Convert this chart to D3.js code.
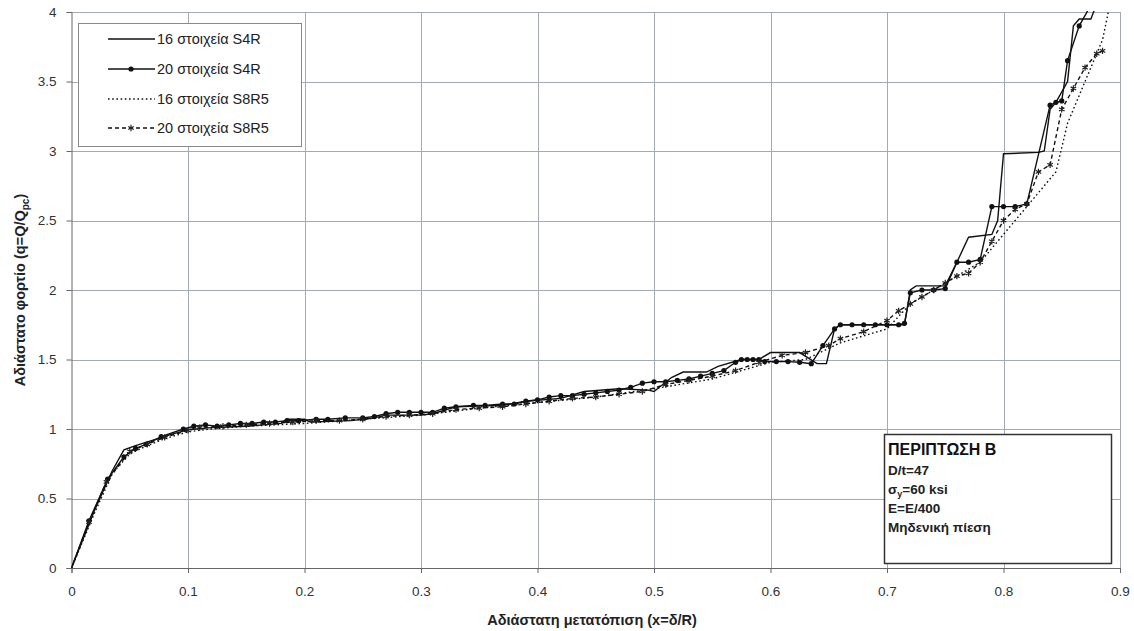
<!DOCTYPE html>
<html>
<head>
<meta charset="utf-8">
<script src="https://cdn.jsdelivr.net/npm/d3@7"></script>
<style>
  body { margin: 0; background: #fff; }
  svg { font-family: "Liberation Sans", Arial, sans-serif; }
</style>
</head>
<body>
<div id="chart"></div>
<script>
// axis ticks
const xTicks = [0, 0.1, 0.2, 0.3, 0.4, 0.5, 0.6, 0.7, 0.8, 0.9];
const yTicks = [0, 0.5, 1, 1.5, 2, 2.5, 3, 3.5, 4];

const legendLabels = ['16 στοιχεία S4R', '20 στοιχεία S4R', '16 στοιχεία S8R5', '20 στοιχεία S8R5'];
const noteTitle = 'ΠΕΡΙΠΤΩΣΗ Β';
const noteLines = ['D/t=47', 'σy=60 ksi', 'E=E/400', 'Μηδενική πίεση'];

// [x, q] pairs for each mesh
const s4r16 = [[0,0],[0.02,0.42],[0.035,0.7],[0.045,0.85],[0.055,0.88],[0.07,0.92],[0.085,0.96],[0.1,0.995],
  [0.12,1.01],[0.15,1.02],[0.18,1.04],[0.185,1.07],[0.2,1.07],[0.205,1.05],[0.24,1.06],[0.26,1.08],[0.27,1.1],
  [0.3,1.1],[0.31,1.11],[0.33,1.16],[0.37,1.17],[0.39,1.2],[0.42,1.22],[0.44,1.27],[0.47,1.29],[0.495,1.28],
  [0.5,1.27],[0.515,1.37],[0.525,1.41],[0.545,1.41],[0.555,1.45],[0.575,1.5],[0.59,1.5],[0.6,1.55],[0.625,1.55],
  [0.64,1.47],[0.648,1.47],[0.655,1.72],[0.66,1.75],[0.715,1.75],[0.72,2.0],[0.725,2.03],[0.75,2.03],[0.76,2.2],
  [0.77,2.38],[0.79,2.4],[0.795,2.5],[0.8,2.98],[0.83,2.99],[0.835,3.0],[0.84,3.3],[0.845,3.35],[0.855,3.5],
  [0.86,3.9],[0.865,3.95],[0.875,3.95],[0.882,4.1]];

const s4r20 = [[0,0],[0.015,0.34],[0.031,0.64],[0.045,0.8],[0.055,0.86],[0.064,0.89],[0.077,0.945],[0.096,1.0],
  [0.105,1.02],[0.115,1.03],[0.125,1.02],[0.135,1.03],[0.145,1.04],[0.155,1.04],[0.165,1.05],[0.175,1.05],
  [0.185,1.06],[0.195,1.06],[0.21,1.07],[0.22,1.07],[0.235,1.08],[0.25,1.08],[0.26,1.09],[0.27,1.11],[0.28,1.12],
  [0.29,1.12],[0.3,1.12],[0.31,1.12],[0.32,1.15],[0.33,1.16],[0.345,1.17],[0.355,1.17],[0.37,1.18],[0.38,1.18],
  [0.39,1.2],[0.4,1.21],[0.41,1.23],[0.42,1.24],[0.43,1.24],[0.44,1.25],[0.45,1.26],[0.46,1.27],[0.47,1.28],
  [0.48,1.3],[0.49,1.33],[0.5,1.34],[0.51,1.34],[0.52,1.35],[0.53,1.36],[0.54,1.38],[0.55,1.4],[0.56,1.42],
  [0.57,1.48],[0.575,1.5],[0.58,1.5],[0.585,1.5],[0.59,1.5],[0.595,1.485],[0.605,1.485],[0.615,1.485],[0.625,1.48],
  [0.635,1.47],[0.645,1.6],[0.655,1.72],[0.66,1.75],[0.67,1.75],[0.68,1.75],[0.69,1.75],[0.7,1.75],[0.71,1.75],
  [0.715,1.76],[0.72,1.98],[0.73,2.0],[0.74,2.0],[0.75,2.01],[0.76,2.2],[0.77,2.2],[0.78,2.22],[0.79,2.6],
  [0.8,2.6],[0.81,2.6],[0.82,2.62],[0.84,3.33],[0.845,3.35],[0.85,3.36],[0.855,3.65],[0.865,3.9],[0.875,4.05]];

const s8r516 = [[0,0],[0.02,0.4],[0.035,0.68],[0.05,0.82],[0.065,0.88],[0.08,0.93],[0.1,0.98],[0.12,1.0],
  [0.15,1.02],[0.2,1.04],[0.25,1.07],[0.3,1.1],[0.35,1.15],[0.4,1.19],[0.45,1.23],[0.5,1.29],[0.55,1.36],
  [0.6,1.48],[0.63,1.5],[0.66,1.62],[0.7,1.72],[0.72,1.9],[0.74,2.0],[0.76,2.1],[0.78,2.2],[0.8,2.4],[0.81,2.5],
  [0.83,2.7],[0.845,2.85],[0.855,3.2],[0.865,3.4],[0.875,3.6],[0.885,3.8],[0.89,4.0]];

const s8r520 = [[0,0],[0.015,0.33],[0.03,0.62],[0.05,0.84],[0.065,0.89],[0.08,0.94],[0.1,0.99],[0.11,1.01],
  [0.13,1.02],[0.15,1.03],[0.17,1.04],[0.19,1.05],[0.21,1.06],[0.23,1.06],[0.25,1.07],[0.27,1.09],[0.29,1.1],
  [0.31,1.11],[0.33,1.14],[0.35,1.15],[0.37,1.16],[0.39,1.18],[0.41,1.2],[0.43,1.22],[0.45,1.23],[0.47,1.25],
  [0.49,1.27],[0.51,1.32],[0.53,1.35],[0.55,1.38],[0.57,1.42],[0.59,1.48],[0.61,1.53],[0.63,1.55],[0.65,1.6],
  [0.66,1.65],[0.68,1.7],[0.7,1.78],[0.71,1.85],[0.72,1.9],[0.73,1.95],[0.74,2.0],[0.75,2.05],[0.76,2.1],
  [0.77,2.12],[0.78,2.2],[0.79,2.35],[0.8,2.5],[0.81,2.58],[0.82,2.62],[0.83,2.85],[0.84,2.9],[0.85,3.3],
  [0.86,3.45],[0.87,3.6],[0.88,3.7],[0.885,3.72]];

const W = 1134, H = 631;
const plot = { left: 71.5, right: 1120, top: 12, bottom: 568 };

const svg = d3.select('#chart').append('svg')
  .attr('width', W).attr('height', H);

const x = d3.scaleLinear().domain([0, 0.9]).range([plot.left, plot.right]);
const y = d3.scaleLinear().domain([0, 4]).range([plot.bottom, plot.top]);

// grid
const grid = svg.append('g').attr('stroke', '#a4a9b6').attr('stroke-width', 1);
grid.selectAll('.gx').data(xTicks.slice(1)).enter().append('line')
  .attr('x1', d => Math.round(x(d)) + 0.5).attr('x2', d => Math.round(x(d)) + 0.5)
  .attr('y1', plot.top).attr('y2', plot.bottom);
grid.selectAll('.gy').data(yTicks.slice(1)).enter().append('line')
  .attr('x1', plot.left).attr('x2', plot.right)
  .attr('y1', d => Math.round(y(d)) + 0.5).attr('y2', d => Math.round(y(d)) + 0.5);

// axes
const xAxis = svg.append('g')
  .attr('transform', `translate(0,${plot.bottom})`)
  .call(d3.axisBottom(x).tickValues(xTicks).tickSize(5).tickPadding(13).tickFormat(d3.format('')));
const yAxis = svg.append('g')
  .attr('transform', `translate(${plot.left},0)`)
  .call(d3.axisLeft(y).tickValues(yTicks).tickSize(5).tickPadding(10).tickFormat(d3.format('')));
[xAxis, yAxis].forEach(a => {
  a.select('.domain').attr('stroke', '#666');
  a.selectAll('.tick line').attr('stroke', '#666');
  a.selectAll('text').attr('font-size', 13.5).attr('fill', '#333')
    .attr('font-family', '"Liberation Sans", Arial, sans-serif');
});

// axis titles
svg.append('text')
  .attr('x', 592).attr('y', 625)
  .attr('text-anchor', 'middle').attr('font-size', 14.5).attr('font-weight', 'bold').attr('fill', '#222')
  .text('Αδιάστατη μετατόπιση (x=δ/R)');

const yt = svg.append('text')
  .attr('transform', 'translate(25,290) rotate(-90)')
  .attr('text-anchor', 'middle').attr('font-size', 14.5).attr('font-weight', 'bold').attr('fill', '#222');
yt.append('tspan').text('Αδιάστατο φορτίο (q=Q/Q');
yt.append('tspan').attr('font-size', 10).attr('dy', 4).text('pc');
yt.append('tspan').attr('dy', -4).text(')');

// curves
svg.append('clipPath').attr('id', 'clip').append('rect')
  .attr('x', plot.left).attr('y', plot.top - 1)
  .attr('width', plot.right - plot.left).attr('height', plot.bottom - plot.top + 1);

const line = d3.line().x(d => x(d[0])).y(d => y(d[1]));
const series = [
  { data: s4r16, dash: null, marker: null },
  { data: s4r20, dash: null, marker: 'circle' },
  { data: s8r516, dash: '1.6,2.6', marker: null },
  { data: s8r520, dash: '4,3', marker: 'star' }
];

const curves = svg.append('g').attr('clip-path', 'url(#clip)');
const star = d3.symbol().type(d3.symbolAsterisk).size(28);

series.forEach(s => {
  curves.append('path').datum(s.data)
    .attr('d', line).attr('fill', 'none')
    .attr('stroke', '#111').attr('stroke-width', 1.4)
    .attr('stroke-dasharray', s.dash);
  if (s.marker === 'circle') {
    curves.selectAll(null).data(s.data.slice(1)).enter().append('circle')
      .attr('cx', d => x(d[0])).attr('cy', d => y(d[1])).attr('r', 2.6).attr('fill', '#111');
  } else if (s.marker === 'star') {
    curves.selectAll(null).data(s.data.slice(1)).enter().append('path')
      .attr('d', star).attr('transform', d => `translate(${x(d[0])},${y(d[1])})`)
      .attr('fill', 'none').attr('stroke', '#222').attr('stroke-width', 1.2);
  }
});

// legend
const lg = svg.append('g');
lg.append('rect').attr('x', 78.5).attr('y', 23.5).attr('width', 223).attr('height', 123)
  .attr('fill', '#fff').attr('stroke', '#888');
const rows = [39, 69, 99, 128];
series.forEach((s, i) => {
  const yy = rows[i];
  lg.append('line').attr('x1', 108).attr('x2', 155).attr('y1', yy).attr('y2', yy)
    .attr('stroke', '#111').attr('stroke-width', 1.4).attr('stroke-dasharray', s.dash);
  if (s.marker === 'circle') {
    lg.append('circle').attr('cx', 131).attr('cy', yy).attr('r', 2.6).attr('fill', '#111');
  } else if (s.marker === 'star') {
    lg.append('path').attr('d', star).attr('transform', `translate(131,${yy})`)
      .attr('fill', 'none').attr('stroke', '#222').attr('stroke-width', 1.2);
  }
  lg.append('text').attr('x', 157).attr('y', yy).attr('dy', '0.35em')
    .attr('font-size', 14.5).attr('fill', '#222').text(legendLabels[i]);
});

// case annotation
const nb = svg.append('g');
nb.append('rect').attr('x', 884.5).attr('y', 434.5).attr('width', 227).attr('height', 129)
  .attr('fill', '#fff').attr('stroke', '#333').attr('stroke-width', 1.5);
nb.append('text').attr('x', 888).attr('y', 455)
  .attr('font-size', 16).attr('font-weight', 'bold').attr('fill', '#111').text(noteTitle);
noteLines.forEach((t, i) => {
  const tx = nb.append('text').attr('x', 888).attr('y', 475 + i * 19)
    .attr('font-size', 13.5).attr('font-weight', 'bold').attr('fill', '#222');
  if (t.startsWith('σy')) {
    tx.append('tspan').text('σ');
    tx.append('tspan').attr('font-size', 9).attr('dy', 3).text('y');
    tx.append('tspan').attr('dy', -3).text(t.slice(2));
  } else {
    tx.text(t);
  }
});
</script>
</body>
</html>
